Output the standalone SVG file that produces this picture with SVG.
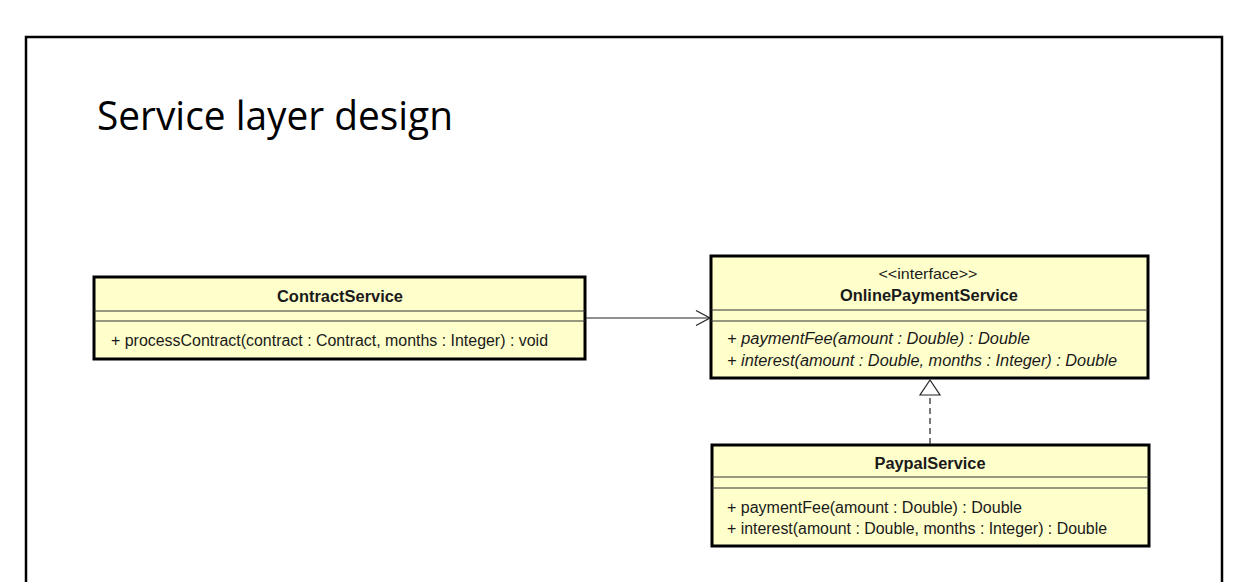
<svg xmlns="http://www.w3.org/2000/svg" width="1254" height="582" viewBox="0 0 1254 582">
<style>
.box{fill:#FFFFCC;stroke:#000;stroke-width:3}
.div{stroke:#333;stroke-width:1.2}
.t{font-family:"Liberation Sans",Arial,sans-serif;font-size:16px;fill:#1a1a1a}
.b{font-weight:bold;text-anchor:middle}
.c{text-anchor:middle;font-size:15px}
.i{font-style:italic}
.edge{stroke:#222;stroke-width:1.2;fill:none}
</style>
<rect x="0" y="0" width="1254" height="582" fill="#fff"/>
<path d="M26,600 V37 H1222 V600" fill="none" stroke="#000" stroke-width="2.5"/>
<text x="97" y="130" font-family="'Open Sans','Noto Sans',sans-serif" font-size="40" fill="#000" textLength="356" lengthAdjust="spacingAndGlyphs">Service layer design</text>

<g id="ContractService">
<rect class="box" x="94" y="277" width="491" height="82"/>
<line class="div" x1="94" y1="311" x2="585" y2="311"/>
<line class="div" x1="94" y1="321" x2="585" y2="321"/>
<text class="t b" x="340" y="302" textLength="126" lengthAdjust="spacingAndGlyphs">ContractService</text>
<text class="t" x="111" y="346" textLength="437" lengthAdjust="spacingAndGlyphs">+ processContract(contract : Contract, months : Integer) : void</text>
</g>

<g id="OnlinePaymentService">
<rect class="box" x="711" y="256" width="437" height="122"/>
<line class="div" x1="711" y1="310" x2="1148" y2="310"/>
<line class="div" x1="711" y1="321" x2="1148" y2="321"/>
<text class="t c" x="928" y="279" textLength="99" lengthAdjust="spacingAndGlyphs">&lt;&lt;interface&gt;&gt;</text>
<text class="t b" x="929" y="301" textLength="178" lengthAdjust="spacingAndGlyphs">OnlinePaymentService</text>
<text class="t i" x="727" y="344" textLength="303" lengthAdjust="spacingAndGlyphs">+ paymentFee(amount : Double) : Double</text>
<text class="t i" x="727" y="366" textLength="390" lengthAdjust="spacingAndGlyphs">+ interest(amount : Double, months : Integer) : Double</text>
</g>

<g id="PaypalService">
<rect class="box" x="712" y="445" width="437" height="101"/>
<line class="div" x1="712" y1="477" x2="1149" y2="477"/>
<line class="div" x1="712" y1="488" x2="1149" y2="488"/>
<text class="t b" x="930" y="469" textLength="111" lengthAdjust="spacingAndGlyphs">PaypalService</text>
<text class="t" x="727" y="513" textLength="295" lengthAdjust="spacingAndGlyphs">+ paymentFee(amount : Double) : Double</text>
<text class="t" x="727" y="534" textLength="380" lengthAdjust="spacingAndGlyphs">+ interest(amount : Double, months : Integer) : Double</text>
</g>

<g id="connectors">
<line class="edge" x1="586" y1="318" x2="709" y2="318"/>
<polyline class="edge" points="696,310.5 710,318 696,325.5"/>
<line class="edge" x1="930" y1="444" x2="930" y2="395" stroke-dasharray="6,4"/>
<polygon points="930,380 920,395 940,395" fill="#fff" stroke="#222" stroke-width="1.2"/>
</g>
</svg>
